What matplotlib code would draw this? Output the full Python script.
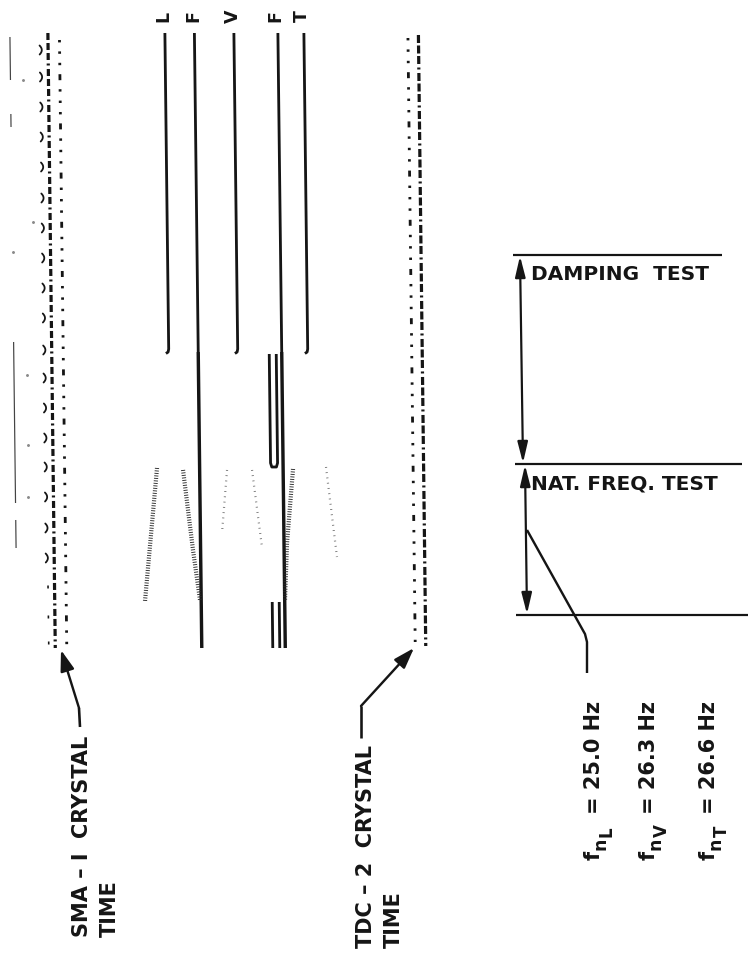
import numpy as np
import matplotlib
matplotlib.use("Agg")
import matplotlib.pyplot as plt
from matplotlib.transforms import Affine2D

plt.rcParams.update({
    "font.family": ["DejaVu Sans"],
    "font.weight": "bold",
    "lines.scale_dashes": False,
    "lines.solid_capstyle": "butt",
})

INK = "#151515"
PX = 0.72  # points per pixel at 100 dpi

# ---- oscillograph record (paper coordinates: x across strip, y = time down the strip)
PAPER_SKEW = 0.012          # the strip drifts slightly sideways as it runs

channel_labels = ["L", "F", "V", "F", "T"]
channel_label_x = [163, 193, 233, 275, 302]
channel_base_x = [164.5, 194.0, 233.5, 277.5, 303.5]
channel_start = [33, 33, 33, 33, 33]
channel_stop = [352, 648, 352, 648, 352]
channel_damped = [True, False, True, False, True]

# auxiliary pair of traces (loop during the damping pulse, short run at the end)
aux_base_x = [265.0, 272.0]
aux_loop_span = [354, 467]
aux_tail_span = [602, 648]

# ringing envelopes of the natural-frequency test
osc_x = [[151.4, 137.8], [177.4, 186.4, 192.8], [221.4, 215.6],
         [246.4, 255.4], [287.4, 280.5, 277.8], [320.4, 330.3]]
osc_y = [[468, 601], [470, 550, 600], [470, 533],
         [470, 547], [469, 543, 600], [467, 557]]
osc_dense = [True, True, False, False, True, False]

# SMA-1 crystal time base
sma_pip_y = [50, 77, 107, 137, 167, 198, 228, 258, 288, 318, 350,
             378, 408, 438, 467, 497, 528, 558, 587, 617, 643]
sma_pip_x = 39.0
sma_dash_x, sma_dash_span = 47.5, [33, 648]
sma_dot_x, sma_dot_span = 59.0, [40, 648]
edge_trace_x = 9.5
edge_trace_spans = [[37, 80], [114, 127], [342, 503], [520, 548]]
edge_specks = [[23, 80], [33, 222], [13, 252], [27, 375], [28, 445], [28, 497]]

# TDC-2 crystal time base
tdc_dot_x, tdc_dot_span = 407.5, [38, 642]
tdc_dash_x, tdc_dash_span = 418.0, [35, 646]

# ---- test annotation (right-hand side)
test_names = ["DAMPING  TEST", "NAT. FREQ. TEST"]
test_bounds_y = [255, 464, 615]
test_bounds_x0 = [513, 515, 516]
test_bounds_x1 = [722, 742, 748]
test_arrow_x = [[520, 523], [525, 527]]

freq_channels = ["L", "V", "T"]
freq_values = [25.0, 26.3, 26.6]
freq_label_x = [600, 655, 715]
freq_label_y = 860

fig = plt.figure(figsize=(7.48, 9.60), dpi=100)
ax = fig.add_axes([0, 0, 1, 1])
ax.set_xlim(0, 748)
ax.set_ylim(960, 0)
ax.axis("off")

paper = Affine2D.from_values(1, 0, PAPER_SKEW, 1, 0, 0) + ax.transData


def trace(xs, ys, lw=3.0, **kw):
    kw.setdefault("color", INK)
    ax.plot(xs, ys, lw=lw * PX, transform=paper, **kw)


# galvanometer traces
for bx, y0, y1, damped in zip(channel_base_x, channel_start, channel_stop, channel_damped):
    if damped:
        trace([bx, bx, bx - 0.6, bx - 2.8], [y0, y1 - 3, y1, y1 + 1.5], lw=2.8,
              solid_joinstyle="round")
    else:
        trace([bx, bx], [y0, 352], lw=2.8)
        trace([bx, bx], [352, y1], lw=3.4)

for lab, lx in zip(channel_labels, channel_label_x):
    ax.text(lx, 16, lab, rotation=90, ha="center", va="center",
            fontsize=12.5, fontweight="bold", color=INK)

# auxiliary loop and tail
la, ra = aux_base_x
top, bot = aux_loop_span
trace([ra, ra, ra - 1.2, la + 1.2, la, la],
      [top, bot - 4, bot, bot, bot - 4, top], lw=2.8, solid_joinstyle="round")
for bx in aux_base_x:
    trace([bx, bx], aux_tail_span, lw=2.8)

# ringing envelopes
for xs, ys, dense in zip(osc_x, osc_y, osc_dense):
    if dense:
        trace(xs, ys, lw=4.2, color="#2a2a2a", dashes=(0.9 * PX, 1.6 * PX))
    else:
        trace(xs, ys, lw=2.2, color="#6a6a6a", dashes=(0.8 * PX, 4.5 * PX))

# SMA-1 crystal time: bracket-shaped pips, then dashed and dotted lines
arc_t = np.linspace(-1.0, 1.0, 9)
n_arc = 18
for yc in sma_pip_y[:n_arc]:
    trace(sma_pip_x + 2.2 * (1 - arc_t ** 2), yc + 4.5 * arc_t, lw=1.8,
          solid_capstyle="round")
for yc in sma_pip_y[n_arc:]:
    trace([sma_pip_x + 2, sma_pip_x + 2], [yc - 1.5, yc + 1.5], lw=1.6)

dash_dot = (7 * PX, 3 * PX, 7 * PX, 3 * PX, 7 * PX, 3.5 * PX, 2 * PX, 3.5 * PX)
dot_run = (2.4 * PX, 9 * PX, 2.4 * PX, 9 * PX, 2.4 * PX, 9 * PX, 6 * PX, 9 * PX)
trace([sma_dash_x] * 2, sma_dash_span, lw=3.2, dashes=dash_dot)
trace([sma_dot_x] * 2, sma_dot_span, lw=2.8, dashes=dot_run)

for span in edge_trace_spans:
    trace([edge_trace_x] * 2, span, lw=1.2, color="#444444")
sx, sy = zip(*edge_specks)
ax.plot(sx, sy, ls="none", marker="o", ms=1.1, color="#8a8a8a")

# TDC-2 crystal time
trace([tdc_dot_x] * 2, tdc_dot_span, lw=2.8, dashes=dot_run)
tdc_dash = (8 * PX, 2.5 * PX, 8 * PX, 2.5 * PX, 8 * PX, 3.5 * PX, 2 * PX, 3.5 * PX)
trace([tdc_dash_x] * 2, tdc_dash_span, lw=3.2, dashes=tdc_dash)

# leaders to the time bases
arrow_kw = dict(arrowstyle="-|>,head_length=0.9,head_width=0.3", lw=2.4 * PX,
                color=INK, shrinkA=0, shrinkB=0, mutation_scale=14)
ax.plot([80, 79], [727, 708], color=INK, lw=2.6 * PX)
ax.annotate("", xy=(61, 650), xytext=(79, 708), arrowprops=arrow_kw)
ax.plot([361, 361], [738, 706], color=INK, lw=2.6 * PX)
ax.annotate("", xy=(414, 648), xytext=(361, 706), arrowprops=arrow_kw)

label_kw = dict(rotation=90, rotation_mode="anchor", ha="left", va="baseline",
                fontweight="bold", color=INK)
ax.text(88, 937, "SMA – I  CRYSTAL", fontsize=15, **label_kw)
ax.text(116, 937, "TIME", fontsize=15, **label_kw)
ax.text(372, 948, "TDC – 2  CRYSTAL", fontsize=15, **label_kw)
ax.text(400, 948, "TIME", fontsize=15, **label_kw)

# test sections
for y, x0, x1 in zip(test_bounds_y, test_bounds_x0, test_bounds_x1):
    ax.plot([x0, x1], [y, y], color=INK, lw=2.2 * PX)

span_kw = dict(arrowstyle="<|-|>,head_length=0.9,head_width=0.22", lw=2.2 * PX,
               color=INK, shrinkA=0, shrinkB=0, mutation_scale=14)
for (xa, xb), ya, yb in zip(test_arrow_x, test_bounds_y[:-1], test_bounds_y[1:]):
    ax.annotate("", xy=(xa, ya + 1), xytext=(xb, yb - 1), arrowprops=span_kw)

for name, ya in zip(test_names, test_bounds_y[:-1]):
    ax.text(531, ya + 25, name, ha="left", va="baseline", fontsize=14.5,
            fontweight="bold", color=INK)

ax.plot([527, 585, 587, 587], [530, 634, 642, 673], color=INK, lw=2.4 * PX,
        solid_joinstyle="round")

# natural frequencies: f, subscript n, sub-subscript channel, then the value
for ch, val, fx in zip(freq_channels, freq_values, freq_label_x):
    fy = freq_label_y
    ax.text(fx, fy, "f", fontsize=15, **label_kw)
    ax.text(fx + 6, fy - 10, "n", fontsize=12.5, **label_kw)
    ax.text(fx + 12, fy - 23, ch, fontsize=12, **label_kw)
    ax.text(fx, fy - 46, f"= {val:.1f} Hz", fontsize=15, **label_kw)

fig.savefig("out.png", dpi=100, facecolor="white")
